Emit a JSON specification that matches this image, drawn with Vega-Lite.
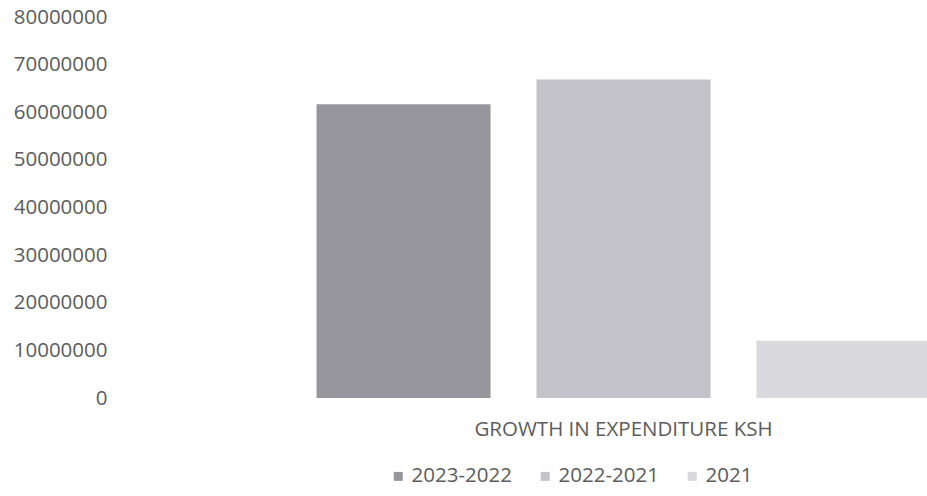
{
  "$schema": "https://vega.github.io/schema/vega-lite/v6.json",
  "autosize": {"type": "none"},
  "width": 815,
  "height": 381,
  "padding": {"left": 112, "top": 17, "right": 0, "bottom": 98},
  "background": "white",
  "data": {
    "values": [
      {"category": "GROWTH IN EXPENDITURE KSH", "series": "2023-2022", "amount": 61700000},
      {"category": "GROWTH IN EXPENDITURE KSH", "series": "2022-2021", "amount": 66900000},
      {"category": "GROWTH IN EXPENDITURE KSH", "series": "2021", "amount": 12000000}
    ]
  },
  "mark": {"type": "bar", "clip": true},
  "encoding": {
    "x": {
      "field": "category",
      "type": "nominal",
      "scale": {"range": [0, 1023], "paddingInner": 0, "paddingOuter": 0},
      "axis": {
        "title": null,
        "labelAngle": 0,
        "domain": false,
        "ticks": false,
        "labelPadding": 21,
        "labelLimit": 0,
        "labelFont": "Open Sans",
        "labelFontSize": 20.5,
        "labelColor": "#5c5c5c"
      }
    },
    "xOffset": {
      "field": "series",
      "type": "nominal",
      "sort": ["2023-2022", "2022-2021", "2021"],
      "scale": {"paddingInner": 0.209, "paddingOuter": 0.93}
    },
    "y": {
      "field": "amount",
      "type": "quantitative",
      "scale": {"domain": [0, 80000000], "nice": false},
      "axis": {
        "title": null,
        "values": [0, 10000000, 20000000, 30000000, 40000000, 50000000, 60000000, 70000000, 80000000],
        "format": "d",
        "grid": false,
        "domain": false,
        "ticks": false,
        "labelPadding": 5,
        "labelFont": "Open Sans",
        "labelFontSize": 20.5,
        "labelColor": "#5c5c5c"
      }
    },
    "color": {
      "field": "series",
      "type": "nominal",
      "sort": ["2023-2022", "2022-2021", "2021"],
      "scale": {"domain": ["2023-2022", "2022-2021", "2021"], "range": ["#96969c", "#c3c3c9", "#d9d9de"]},
      "legend": {
        "title": null,
        "orient": "none",
        "legendX": 276,
        "legendY": 449,
        "direction": "horizontal",
        "symbolType": "square",
        "symbolSize": 81,
        "symbolStrokeWidth": 0,
        "labelOffset": 3,
        "columnPadding": 23,
        "padding": 0,
        "labelFont": "Open Sans",
        "labelFontSize": 20.5,
        "labelColor": "#5c5c5c"
      }
    }
  },
  "config": {
    "view": {"stroke": null}
  }
}
